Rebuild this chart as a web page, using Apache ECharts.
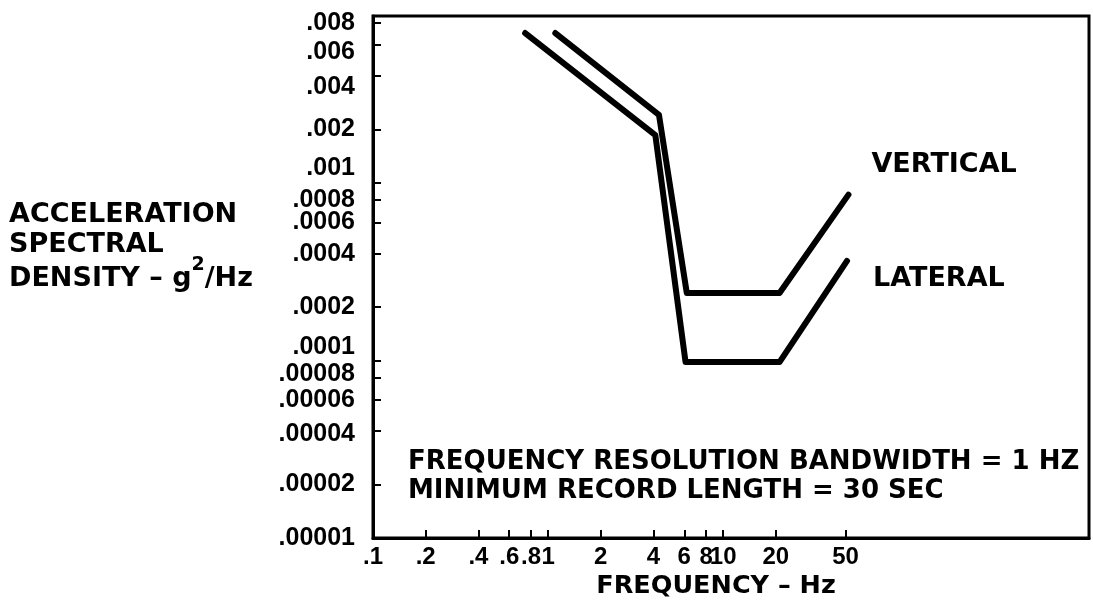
<!DOCTYPE html>
<html>
<head>
<meta charset="utf-8">
<script src="https://cdn.jsdelivr.net/npm/echarts@6/dist/echarts.min.js"></script>
<style>html,body{margin:0;padding:0;background:#fff;}#c{width:1093px;height:608px;}</style>
</head>
<body>
<div id="c"></div>
<script>
// ---- data ----
const freqVertical = [1.1, 4.3, 6.2, 21, 52];
const psdVertical  = [0.0070, 0.00242, 0.00024, 0.00024, 0.00086];
const freqLateral  = [0.74, 4.1, 6.1, 21, 51];
const psdLateral   = [0.0070, 0.00186, 0.000098, 0.000098, 0.000364];
const xTickValues = [0.1, 0.2, 0.4, 0.6, 0.8, 1, 2, 4, 6, 8, 10, 20, 50];
const xTickLabels = ['.1', '.2', '.4', '.6', '.8', '1', '2', '4', '6', '8', '10', '20', '50'];
const yTickValues = [0.008, 0.006, 0.004, 0.002, 0.001, 0.0008, 0.0006, 0.0004, 0.0002, 0.0001, 0.00008, 0.00006, 0.00004, 0.00002, 0.00001];
const yTickLabels = ['.008', '.006', '.004', '.002', '.001', '.0008', '.0006', '.0004', '.0002', '.0001', '.00008', '.00006', '.00004', '.00002', '.00001'];

// ---- styling (label nudges in px, positive = down) ----
const yLabelNudge = {'.006': 7, '.004': 11, '.001': -15, '.0001': -13, '.00008': -4, '.00004': 3};

function lookup(vals, labels, v) {
  for (let i = 0; i < vals.length; i++) {
    if (Math.abs(Math.log10(vals[i]) - Math.log10(v)) < 1e-6) return labels[i];
  }
  return '';
}
const FONT = 'Liberation Sans, Arial, sans-serif';
const WIDE = 'DejaVu Sans, Verdana, sans-serif';
const yRich = {};
yTickLabels.forEach((lab, i) => {
  const s = yLabelNudge[lab] || 0;
  yRich['r' + i] = {
    color: '#000', fontFamily: FONT, fontWeight: 'bold', fontSize: 25,
    padding: s >= 0 ? [2 * s, 0, 0, 0] : [0, 0, -2 * s, 0]
  };
});

const chart = echarts.init(document.getElementById('c'), null, {renderer: 'canvas'});
const option = {
  animation: false,
  backgroundColor: '#fff',
  grid: {left: 373, right: 4, top: 16, bottom: 70, show: true, borderColor: '#000', borderWidth: 3, backgroundColor: 'transparent'},
  xAxis: {
    type: 'log', logBase: 10, min: 0.1, max: 1230,
    axisLine: {show: true, lineStyle: {color: '#000', width: 3}},
    axisTick: {show: true, inside: true, length: 8, lineStyle: {color: '#000', width: 2}, customValues: xTickValues},
    axisLabel: {show: true, customValues: xTickValues, color: '#000', fontFamily: FONT, fontWeight: 'bold', fontSize: 24, margin: 7,
      hideOverlap: false, showMinLabel: true, showMaxLabel: true,
      formatter: v => lookup(xTickValues, xTickLabels, v)},
    splitLine: {show: false}, minorTick: {show: false}
  },
  yAxis: {
    type: 'log', logBase: 10, min: 0.00001, max: 0.00873,
    axisLine: {show: true, lineStyle: {color: '#000', width: 3}},
    axisTick: {show: true, inside: true, length: 8, lineStyle: {color: '#000', width: 2}, customValues: yTickValues},
    axisLabel: {show: true, customValues: yTickValues, color: '#000', fontFamily: FONT, fontWeight: 'bold', fontSize: 25, margin: 18,
      hideOverlap: false, showMinLabel: true, showMaxLabel: true, rich: yRich,
      formatter: v => {
        const lab = lookup(yTickValues, yTickLabels, v);
        return '{r' + yTickLabels.indexOf(lab) + '|' + lab + '}';
      }},
    splitLine: {show: false}, minorTick: {show: false}
  },
  series: [
    {
      name: 'VERTICAL', type: 'line', showSymbol: false, symbol: 'none',
      data: freqVertical.map((f, i) => [f, psdVertical[i]]),
      lineStyle: {color: '#000', width: 6, cap: 'round', join: 'round'},
      endLabel: {show: true, formatter: '{a}', color: '#000', fontFamily: WIDE, fontWeight: 'bold', fontSize: 27, offset: [15, -30]}
    },
    {
      name: 'LATERAL', type: 'line', showSymbol: false, symbol: 'none',
      data: freqLateral.map((f, i) => [f, psdLateral[i]]),
      lineStyle: {color: '#000', width: 6, cap: 'round', join: 'round'},
      endLabel: {show: true, formatter: '{a}', color: '#000', fontFamily: WIDE, fontWeight: 'bold', fontSize: 27, offset: [18, 18]}
    }
  ],
  graphic: [
    {type: 'text', x: 408, y: 462, style: {text: 'FREQUENCY RESOLUTION BANDWIDTH = 1 HZ', fill: '#000', font: 'bold 26px ' + WIDE, verticalAlign: 'middle'}},
    {type: 'text', x: 408, y: 491, style: {text: 'MINIMUM RECORD LENGTH = 30 SEC', fill: '#000', font: 'bold 26px ' + WIDE, verticalAlign: 'middle'}},
    {type: 'text', x: 716, y: 586, style: {text: 'FREQUENCY – Hz', fill: '#000', font: 'bold 25.5px ' + WIDE, align: 'center', verticalAlign: 'middle'}},
    {type: 'text', x: 9, y: 215, style: {text: 'ACCELERATION', fill: '#000', font: 'bold 27px ' + WIDE, verticalAlign: 'middle'}},
    {type: 'text', x: 9, y: 245, style: {text: 'SPECTRAL', fill: '#000', font: 'bold 27px ' + WIDE, verticalAlign: 'middle'}},
    {type: 'text', x: 9, y: 274, style: {
      text: '{n|DENSITY – g}{s|2}{n|/Hz}', verticalAlign: 'middle',
      rich: {
        n: {fontFamily: WIDE, fontWeight: 'bold', fontSize: 27, fill: '#000', verticalAlign: 'bottom', lineHeight: 36},
        s: {fontFamily: WIDE, fontWeight: 'bold', fontSize: 19, fill: '#000', verticalAlign: 'top', lineHeight: 36}
      }
    }}
  ]
};
chart.setOption(option);
</script>
</body>
</html>
